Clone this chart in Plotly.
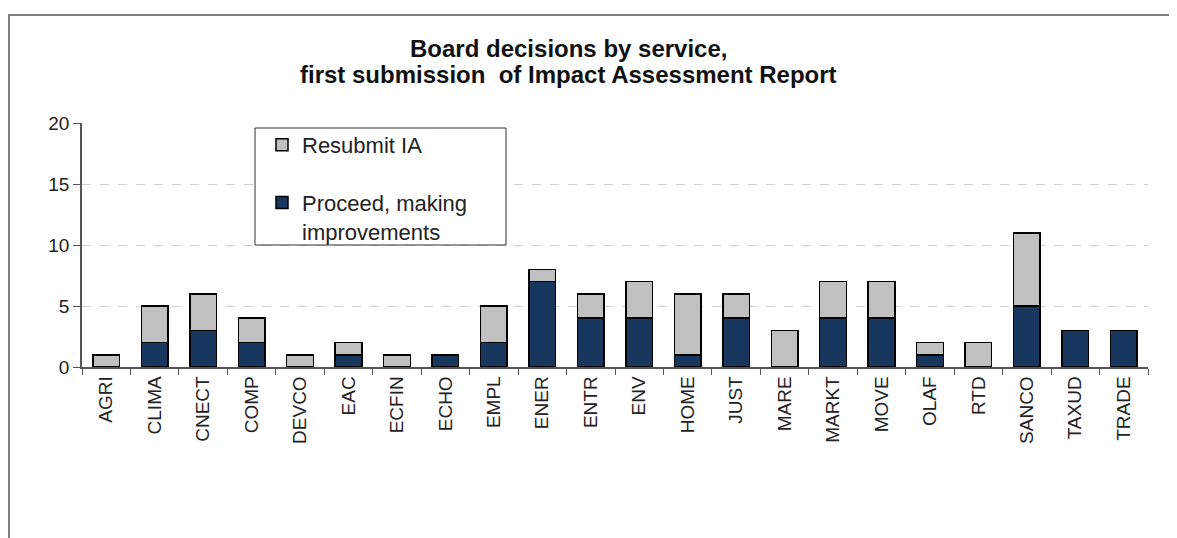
import plotly.graph_objects as go

services = ["AGRI", "CLIMA", "CNECT", "COMP", "DEVCO", "EAC", "ECFIN", "ECHO", "EMPL", "ENER",
            "ENTR", "ENV", "HOME", "JUST", "MARE", "MARKT", "MOVE", "OLAF", "RTD", "SANCO",
            "TAXUD", "TRADE"]
proceed = [0, 2, 3, 2, 0, 1, 0, 1, 2, 7, 4, 4, 1, 4, 0, 4, 4, 1, 0, 5, 3, 3]
resubmit = [1, 3, 3, 2, 1, 1, 1, 0, 3, 1, 2, 3, 5, 2, 3, 3, 3, 1, 2, 6, 0, 0]
y_ticks = [0, 5, 10, 15, 20]
title_lines = ["Board decisions by service,", "first submission  of Impact Assessment Report"]

W, H = 1177, 538
OFF = 8  # page body margin offset
# plot area in screen px
L, R, T, B = 82, 1148, 123, 367
pw, ph = R - L, B - T

def px_x(x):
    return (x - L) / pw

def px_y(y):
    return (B - y) / ph

FONT = "Liberation Sans, Arial, sans-serif"

fig = go.Figure()
fig.add_trace(go.Bar(
    x=services, y=proceed, name="Proceed, making<br>improvements",
    marker=dict(color="#17375E", line=dict(color="#000000", width=1.5)),
    legendgroup="b", legendrank=2,
))
fig.add_trace(go.Bar(
    x=services, y=resubmit, name="Resubmit IA",
    marker=dict(color="#C0C0C0", line=dict(color="#000000", width=1.5)),
    legendgroup="a", legendrank=1,
))

# outer frame
fig.add_shape(type="rect", xref="paper", yref="paper",
              x0=px_x(OFF + 1), x1=px_x(1200), y0=px_y(600), y1=px_y(15),
              line=dict(color="#7f7f7f", width=2), fillcolor="rgba(0,0,0,0)", layer="below")
# legend box
fig.add_shape(type="rect", xref="paper", yref="paper",
              x0=px_x(255), x1=px_x(506), y0=px_y(245), y1=px_y(128),
              line=dict(color="#333333", width=1), fillcolor="white", layer="above")

# title (two lines, positioned individually)
for txt, yc in zip(title_lines, [48, 74]):
    fig.add_annotation(text=f"<b>{txt}</b>", xref="paper", yref="paper",
                       x=px_x(568), y=px_y(yc), xanchor="center", yanchor="middle",
                       showarrow=False, font=dict(family=FONT, size=24, color="#111111"))

fig.update_layout(
    width=W, height=H,
    margin=dict(l=L - OFF, r=W - (R - OFF), t=T - OFF, b=H - (B - OFF)),
    paper_bgcolor="white", plot_bgcolor="white",
    barmode="stack", bargap=0.45,
    font=dict(family=FONT, size=19, color="#222222"),
    legend=dict(x=px_x(262), y=px_y(124), xanchor="left", yanchor="top",
                traceorder="grouped", bgcolor="rgba(0,0,0,0)", borderwidth=0,
                tracegroupgap=26, valign="top",
                font=dict(family=FONT, size=22, color="#222222"),
                itemwidth=30),
    showlegend=True,
)
fig.update_xaxes(
    tickangle=-90, showline=True, linecolor="#555555", linewidth=1.5,
    ticks="outside", tickson="boundaries", ticklen=6, tickcolor="#555555",
    showgrid=False, tickfont=dict(size=19, color="#222222"),
)
fig.update_yaxes(
    range=[0, 20], tickvals=y_ticks, showline=True, linecolor="#555555", linewidth=1.5,
    ticks="outside", ticklen=7, tickcolor="#555555",
    showgrid=True, gridcolor="#d0d0d0", griddash="dash", gridwidth=1,
    zeroline=False, tickfont=dict(size=19, color="#222222"),
)

fig.write_html("out.html")
